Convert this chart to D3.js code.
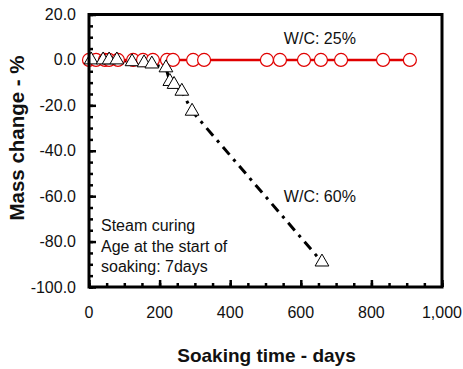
<!DOCTYPE html>
<html>
<head>
<meta charset="utf-8">
<script src="https://cdn.jsdelivr.net/npm/d3@7"></script>
<style>
  body { margin: 0; background: #fff; }
  text { font-family: "Liberation Sans", Arial, sans-serif; fill: #111; }
</style>
</head>
<body>
<div id="chart"></div>
<script>
// data
const wc25Days = [0, 20, 45, 57, 82, 125, 153, 181, 221, 238, 295, 326, 504, 541, 609, 657, 714, 833, 909];
const wc25Mass = [0, 0, 0, 0, 0, 0, 0, 0, 0, 0, 0, 0, 0, 0, 0, 0, 0, 0, 0];
const wc60Days = [6, 40, 57, 79, 122, 156, 178, 218, 229, 241, 263, 292, 660];
const wc60Mass = [0, 0, 0, 0, -0.8, -1.3, -1.8, -3.5, -9.5, -10.8, -13.8, -22.6, -89];
const xTicks = [0, 200, 400, 600, 800, 1000];
const yTicks = [20, 0, -20, -40, -60, -80, -100];
const noteLines = ["Steam curing", "Age at the start of", "soaking: 7days"];

const width = 463, height = 369;
const margin = { top: 14.5, right: 21, bottom: 82, left: 89 };

const svg = d3.select("#chart")
    .append("svg")
    .attr("width", width)
    .attr("height", height);

const xScale = d3.scaleLinear()
    .domain([0, 1000])
    .range([margin.left, width - margin.right]);

const yScale = d3.scaleLinear()
    .domain([-100, 20])
    .range([height - margin.bottom, margin.top]);

// minor + major ticks, pointing inward
svg.append("g")
    .attr("transform", `translate(0, ${yScale(-100)})`)
    .call(d3.axisTop(xScale).tickValues(d3.range(0, 1001, 50)).tickSize(4).tickFormat(""))
    .call(g => g.select(".domain").remove());
svg.append("g")
    .attr("transform", `translate(0, ${yScale(-100)})`)
    .call(d3.axisTop(xScale).tickValues(xTicks).tickSize(7).tickFormat(""))
    .call(g => g.select(".domain").remove());

svg.append("g")
    .attr("transform", `translate(${xScale(0)}, 0)`)
    .call(d3.axisRight(yScale).tickValues(d3.range(-100, 21, 5)).tickSize(4).tickFormat(""))
    .call(g => g.select(".domain").remove());
svg.append("g")
    .attr("transform", `translate(${xScale(0)}, 0)`)
    .call(d3.axisRight(yScale).tickValues(yTicks).tickSize(7).tickFormat(""))
    .call(g => g.select(".domain").remove());

svg.selectAll(".tick line")
    .attr("stroke", "#000")
    .attr("stroke-width", 2.5);

// tick labels
svg.append("g").selectAll("text")
    .data(xTicks)
    .enter()
    .append("text")
    .attr("x", d => xScale(d))
    .attr("y", yScale(-100) + 31)
    .attr("text-anchor", "middle")
    .style("font-size", "16px")
    .text(d => d3.format(",")(d));

svg.append("g").selectAll("text")
    .data(yTicks)
    .enter()
    .append("text")
    .attr("x", xScale(0) - 13)
    .attr("y", d => yScale(d) + 5.5)
    .attr("text-anchor", "end")
    .style("font-size", "16px")
    .text(d => d.toFixed(1));

const pts25 = wc25Days.map((d, i) => ({ x: d, y: wc25Mass[i] }));
const pts60 = wc60Days.map((d, i) => ({ x: d, y: wc60Mass[i] }));

const line = d3.line()
    .x(d => xScale(d.x))
    .y(d => yScale(d.y));

// W/C 60% dash-dot line
svg.append("path")
    .datum(pts60)
    .attr("fill", "none")
    .attr("stroke", "#000")
    .attr("stroke-width", 3)
    .attr("stroke-dasharray", "10,6,3,6")
    .attr("d", line);

// W/C 25% line
svg.append("path")
    .datum(pts25)
    .attr("fill", "none")
    .attr("stroke", "#e00000")
    .attr("stroke-width", 2.5)
    .attr("d", line);

svg.append("g").selectAll("circle")
    .data(pts25)
    .enter()
    .append("circle")
    .attr("cx", d => xScale(d.x))
    .attr("cy", d => yScale(d.y))
    .attr("r", 6.5)
    .attr("fill", "#fff")
    .attr("stroke", "#e00000")
    .attr("stroke-width", 1.2);

svg.append("g").selectAll("path")
    .data(pts60)
    .enter()
    .append("path")
    .attr("transform", d => `translate(${xScale(d.x)}, ${yScale(d.y)})`)
    .attr("d", d3.symbol().type(d3.symbolTriangle).size(82))
    .attr("fill", "#fff")
    .attr("stroke", "#000")
    .attr("stroke-width", 1);

// plot frame
svg.append("rect")
    .attr("x", xScale(0))
    .attr("y", yScale(20))
    .attr("width", xScale(1000) - xScale(0))
    .attr("height", yScale(-100) - yScale(20))
    .attr("fill", "none")
    .attr("stroke", "#000")
    .attr("stroke-width", 3);

// annotations
svg.append("text")
    .attr("x", xScale(552))
    .attr("y", yScale(6.8))
    .style("font-size", "16px")
    .text("W/C: 25%");

svg.append("text")
    .attr("x", xScale(552))
    .attr("y", yScale(-62.5))
    .style("font-size", "16px")
    .text("W/C: 60%");

svg.append("g").selectAll("text")
    .data(noteLines)
    .enter()
    .append("text")
    .attr("x", xScale(34))
    .attr("y", (d, i) => yScale(-75.5) + i * 20.5)
    .style("font-size", "16px")
    .text(d => d);

// axis titles
svg.append("text")
    .attr("x", (xScale(0) + xScale(1000)) / 2 + 1)
    .attr("y", height - 7)
    .attr("text-anchor", "middle")
    .style("font-size", "19px")
    .style("font-weight", "bold")
    .text("Soaking time - days");

svg.append("text")
    .attr("transform", `translate(24, 138) rotate(-90)`)
    .attr("text-anchor", "middle")
    .style("font-size", "20.5px")
    .style("font-weight", "bold")
    .text("Mass change - %");
</script>
</body>
</html>
